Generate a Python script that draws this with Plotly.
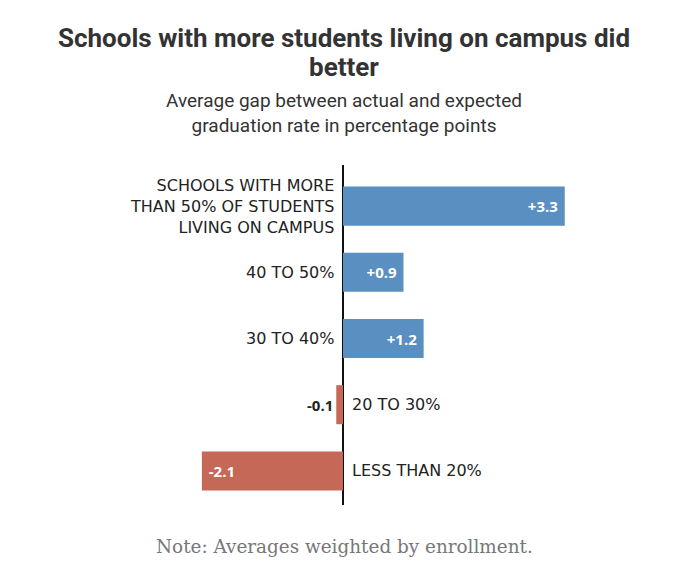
import plotly.graph_objects as go

# -----------------------------
# Data
# -----------------------------
categories = [
    "SCHOOLS WITH MORE<br>THAN 50% OF STUDENTS<br>LIVING ON CAMPUS",
    "40 TO 50%",
    "30 TO 40%",
    "20 TO 30%",
    "LESS THAN 20%",
]
gap_values = [3.3, 0.9, 1.2, -0.1, -2.1]
value_labels = ["+3.3", "+0.9", "+1.2", "-0.1", "-2.1"]

title_lines = ["Schools with more students living on campus did", "better"]
subtitle = "Average gap between actual and expected<br>graduation rate in percentage points"
note = "Note: Averages weighted by enrollment."

BLUE = "#5a8fc1"
RED = "#c66857"
bar_colors = [BLUE if v >= 0 else RED for v in gap_values]
# tiny bars get their label outside
text_pos = ["inside" if abs(v) > 0.5 else "outside" for v in gap_values]
# a bit of breathing room between the label and the bar end
padded = [
    (t + "\u00a0" if v >= 0 else "\u00a0" + t) if p == "inside" else t
    for t, v, p in zip(value_labels, gap_values, text_pos)
]

fig = go.Figure(go.Bar(
    x=gap_values,
    y=categories,
    orientation="h",
    marker=dict(color=bar_colors, line=dict(width=0)),
    text=padded,
    textposition=text_pos,
    insidetextanchor="end",
    insidetextfont=dict(color="white", family="Open Sans", size=15, weight="bold"),
    outsidetextfont=dict(color="#222", family="Open Sans", size=15, weight="bold"),
    textangle=0,
    cliponaxis=False,
    width=0.59,
    hoverinfo="skip",
))

# category labels sit on the opposite side of the zero line
for cat, v in zip(categories, gap_values):
    fig.add_annotation(
        x=0, y=cat, xref="x", yref="y",
        text=cat,
        showarrow=False,
        xanchor="right" if v >= 0 else "left",
        align="right" if v >= 0 else "left",
        xshift=-7 if v >= 0 else 7,
        font=dict(family="DejaVu Sans", size=16, color="#222"),
    )

# title (one annotation per line to keep the tighter leading), subtitle, note
for line, shift in zip(title_lines, [127, 98]):
    fig.add_annotation(
        x=0.5, xref="paper", y=1, yref="paper", yanchor="middle", yshift=shift,
        showarrow=False,
        text="<b>" + line + "</b>",
        font=dict(family="Roboto", size=26, color="#333"),
    )
fig.add_annotation(
    x=0.5, xref="paper", y=1, yref="paper", yanchor="middle", yshift=52,
    showarrow=False,
    text=subtitle,
    font=dict(family="Roboto", size=19, color="#333"),
)
fig.add_annotation(
    x=0.5, xref="paper", y=0, yref="paper", yanchor="middle", yshift=-41,
    showarrow=False,
    text=note,
    font=dict(family="DejaVu Serif", size=18.4, color="#777"),
)

fig.update_layout(
    width=672,
    height=580,
    margin=dict(l=0, r=0, t=157, b=83),
    plot_bgcolor="white",
    paper_bgcolor="white",
    showlegend=False,
    xaxis=dict(
        range=[-4.985, 5.015],
        showgrid=False,
        showticklabels=False,
        zeroline=True,
        zerolinecolor="#111",
        zerolinewidth=2,
        fixedrange=True,
    ),
    yaxis=dict(
        autorange=False,
        range=[4.515, -0.621],
        showgrid=False,
        showticklabels=False,
        zeroline=False,
        fixedrange=True,
    ),
)

fig.write_html("out.html")
